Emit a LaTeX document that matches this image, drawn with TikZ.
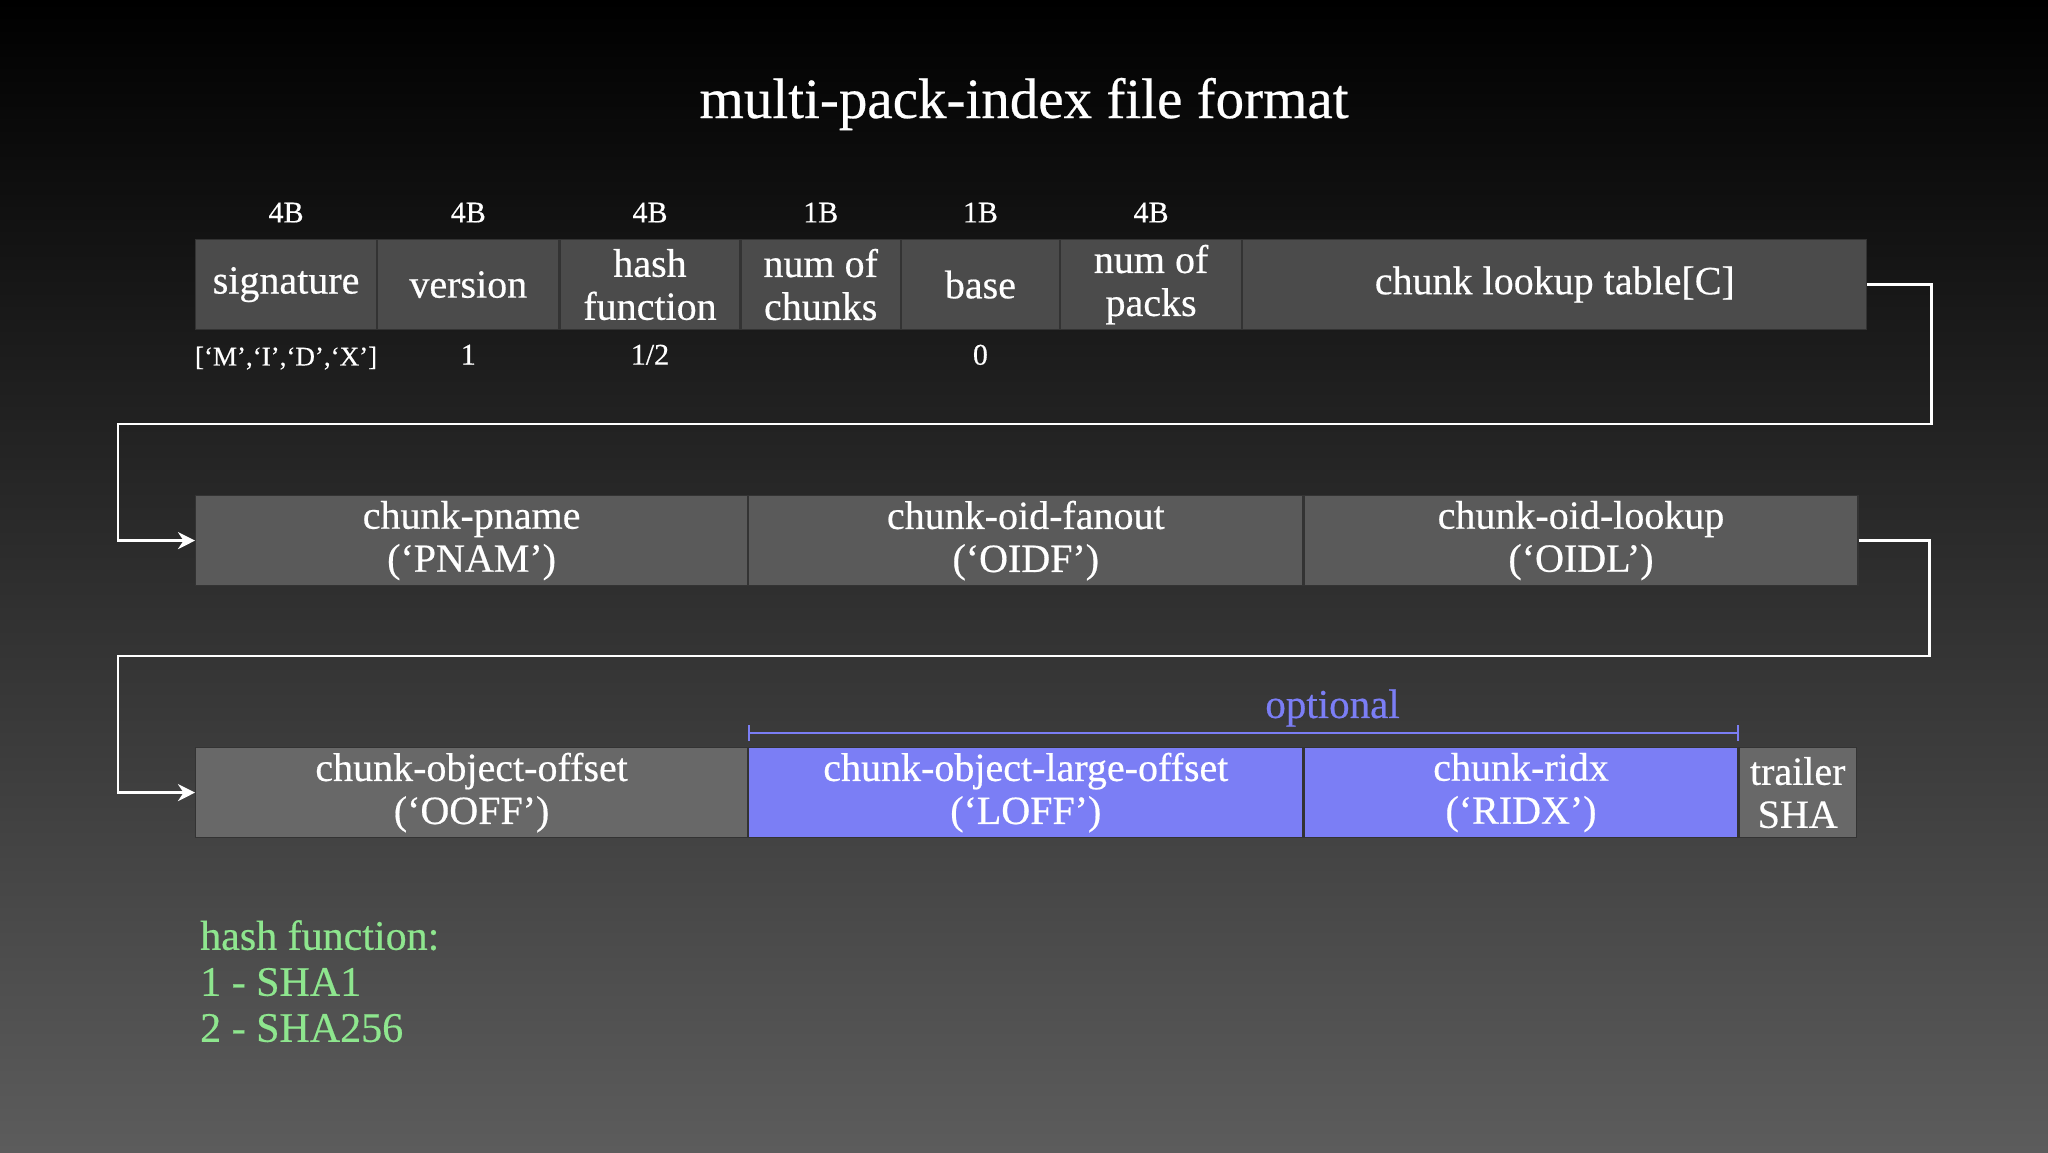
\documentclass[tikz,border=0pt]{standalone}
\usepackage{fontspec}
\setmainfont{Liberation Serif}[FakeBold=0.45]
\usetikzlibrary{arrows.meta,positioning}

\definecolor{rowone}{HTML}{4B4B4B}
\definecolor{rowtwo}{HTML}{5A5A5A}
\definecolor{rowthree}{HTML}{686868}
\definecolor{optblue}{HTML}{7B7EF5}
\definecolor{hashgreen}{HTML}{8EE68E}
\definecolor{bgbottom}{HTML}{5C5C5C}

\begin{document}
\begin{tikzpicture}[
  x=1pt,y=-1pt,
  node distance=0pt,
  field/.style={draw=black!80,line width=1.2pt,inner sep=0pt,text=white,
    align=center,minimum height=90pt,font=\fontsize{40}{43}\selectfont},
  bytes/.style={text=white,font=\fontsize{30}{32}\selectfont},
  link/.style={draw=white,line width=2.5pt,-{Stealth[length=17pt,width=17pt]}},
  bracket/.style={draw=optblue,line width=2pt,{Bar[width=16pt]}-{Bar[width=16pt]}}
]
  % background and page size
  \shade[top color=black,bottom color=bgbottom] (0,0) rectangle (2048,1152);
  \useasboundingbox (0,0) rectangle (2048,1152);

  \node[text=white,font=\fontsize{57}{62}\selectfont] (title) at (1024,104)
    {multi-pack-index file format};

  % header row
  \node[field,fill=rowone,minimum width=181pt,anchor=north west] (sig) at (195,239) {signature};
  \node[field,fill=rowone,minimum width=181pt,right=of sig] (ver) {version};
  \node[field,fill=rowone,minimum width=180pt,right=of ver] (hash) {hash\\function};
  \node[field,fill=rowone,minimum width=159pt,right=of hash] (nchunks) {num of\\chunks};
  \node[field,fill=rowone,minimum width=158pt,right=of nchunks] (base) {base};
  \node[field,fill=rowone,minimum width=181pt,right=of base] (npacks) {num of\\packs};
  \node[field,fill=rowone,minimum width=624pt,right=of npacks] (lookup) {chunk lookup table[C]};

  \node[bytes,above=13pt of sig] {4B};
  \node[bytes,above=13pt of ver] {4B};
  \node[bytes,above=13pt of hash] {4B};
  \node[bytes,above=13pt of nchunks] {1B};
  \node[bytes,above=13pt of base] {1B};
  \node[bytes,above=13pt of npacks] {4B};

  \node[bytes,below=13pt of sig,font=\fontsize{27}{30}\selectfont] {[‘M’,‘I’,‘D’,‘X’]};
  \node[bytes,below=11pt of ver] {1};
  \node[bytes,below=11pt of hash] {1/2};
  \node[bytes,below=11pt of base] {0};

  % second row
  \node[field,fill=rowtwo,minimum width=552pt,anchor=north west] (pname) at (195,495)
    {chunk-pname\\(‘PNAM’)};
  \node[field,fill=rowtwo,minimum width=554pt,right=of pname] (fanout) {chunk-oid-fanout\\(‘OIDF’)};
  \node[field,fill=rowtwo,minimum width=554pt,right=of fanout] (oidl) {chunk-oid-lookup\\(‘OIDL’)};

  % third row
  \node[field,fill=rowthree,minimum width=552pt,anchor=north west] (ooff) at (195,747)
    {chunk-object-offset\\(‘OOFF’)};
  \node[field,fill=optblue,minimum width=554pt,right=of ooff] (loff) {chunk-object-large-offset\\(‘LOFF’)};
  \node[field,fill=optblue,minimum width=434pt,right=of loff] (ridx) {chunk-ridx\\(‘RIDX’)};
  \node[field,fill=rowthree,minimum width=117pt,right=of ridx] (trailer) {trailer\\SHA};

  \coordinate (bendone) at (118,424);
  \coordinate (bendtwo) at (118,656);
  \draw[link] (lookup.east) -- ++(64,0) |- (bendone) |- (pname.west);
  \draw[link] (oidl.east) -- ++(71,0) |- (bendtwo) |- (ooff.west);

  % optional part
  \draw[bracket] ([yshift=14pt]loff.north west) -- ([yshift=14pt]ridx.north east)
    node[pos=0.59,above=2pt,text=optblue,font=\fontsize{41}{44}\selectfont] (opt) {optional};

  \node[text=hashgreen,anchor=north west,align=left,inner sep=0pt,
    font=\fontsize{42}{46}\selectfont] (legend) at (200,920)
    {hash function:\\1 - SHA1\\2 - SHA256};
\end{tikzpicture}
\end{document}
